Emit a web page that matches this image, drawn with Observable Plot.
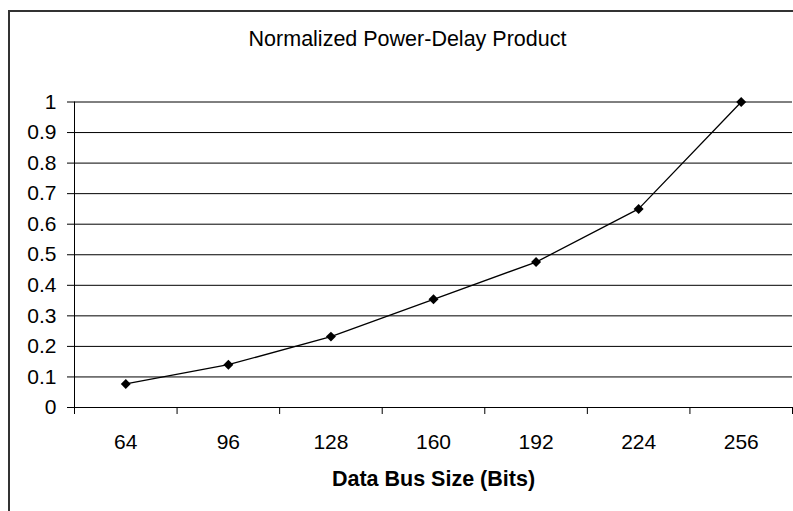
<!DOCTYPE html>
<html>
<head>
<meta charset="utf-8">
<script src="https://cdn.jsdelivr.net/npm/d3@7"></script>
<script src="https://cdn.jsdelivr.net/npm/@observablehq/plot@0.6"></script>
<style>
  html, body { margin: 0; padding: 0; background: #fff; }
  #page { position: relative; width: 793px; height: 511px; overflow: hidden; background: #fff; font-family: "Liberation Sans", Arial, sans-serif; }
  #frame { position: absolute; left: 8px; top: 10px; width: 900px; height: 600px; border-left: 2px solid #333; border-top: 2px solid #333; box-sizing: border-box; pointer-events: none; }
  #title { position: absolute; left: 0; top: 0; width: 815px; height: 70px; text-align: center; }
  #title span { position: absolute; left: 0; width: 815px; top: 28px; font-size: 21.5px; line-height: 22px; color: #000; white-space: nowrap; }
  #chart { position: absolute; left: 0; top: 70px; }
  #chart g[aria-label$="tick label"], #chart g[aria-label$="tick label"] text { font-size: 21px !important; }
</style>
</head>
<body>
<div id="page">
  <div id="title"><span></span></div>
  <div id="chart"></div>
  <div id="frame"></div>
</div>
<script>
const categories = ["64", "96", "128", "160", "192", "224", "256"];
const values = [0.077, 0.14, 0.232, 0.354, 0.476, 0.65, 1.0];
const yTicks = [0, 0.1, 0.2, 0.3, 0.4, 0.5, 0.6, 0.7, 0.8, 0.9, 1];
const chartTitle = "Normalized Power-Delay Product";
const xTitle = "Data Bus Size (Bits)";

const data = categories.map((c, i) => ({pos: i + 0.5, cat: c, value: values[i]}));
const boundaries = d3.range(categories.length + 1);

document.querySelector("#title span").textContent = chartTitle;

const chart = Plot.plot({
  width: 793,
  height: 441,
  marginTop: 31.5,
  marginBottom: 104,
  marginLeft: 74,
  marginRight: 1,
  style: {fontFamily: "'Liberation Sans', Arial, sans-serif", fontSize: "21px", color: "#000", background: "#fff", overflow: "visible"},
  x: {type: "linear", domain: [0, categories.length], axis: null},
  y: {domain: [0, 1], axis: null},
  marks: [
    Plot.ruleY(yTicks, {stroke: "#000", strokeWidth: 1}),
    Plot.axisY({ticks: yTicks, tickSize: 7, tickPadding: 11, tickFormat: d => String(d), fontSize: 21, label: null, stroke: "#000"}),
    Plot.ruleX([0], {stroke: "#000", strokeWidth: 1}),
    Plot.axisX({ticks: boundaries, tickSize: 7, tickFormat: () => "", label: null, stroke: "#000"}),
    Plot.axisX({ticks: data.map(d => d.pos), tickSize: 0, tickPadding: 27, tickFormat: t => categories[Math.floor(t)], fontSize: 21, label: null}),
    Plot.text([xTitle], {frameAnchor: "bottom", dy: 78, fontWeight: "bold", fontSize: 21.5, fill: "#000"}),
    Plot.line(data, {x: "pos", y: "value", stroke: "#000", strokeWidth: 1.3}),
    Plot.dot(data, {x: "pos", y: "value", symbol: "diamond2", r: 4.5, fill: "#000", stroke: "none"})
  ]
});
document.getElementById("chart").appendChild(chart);
</script>
</body>
</html>
